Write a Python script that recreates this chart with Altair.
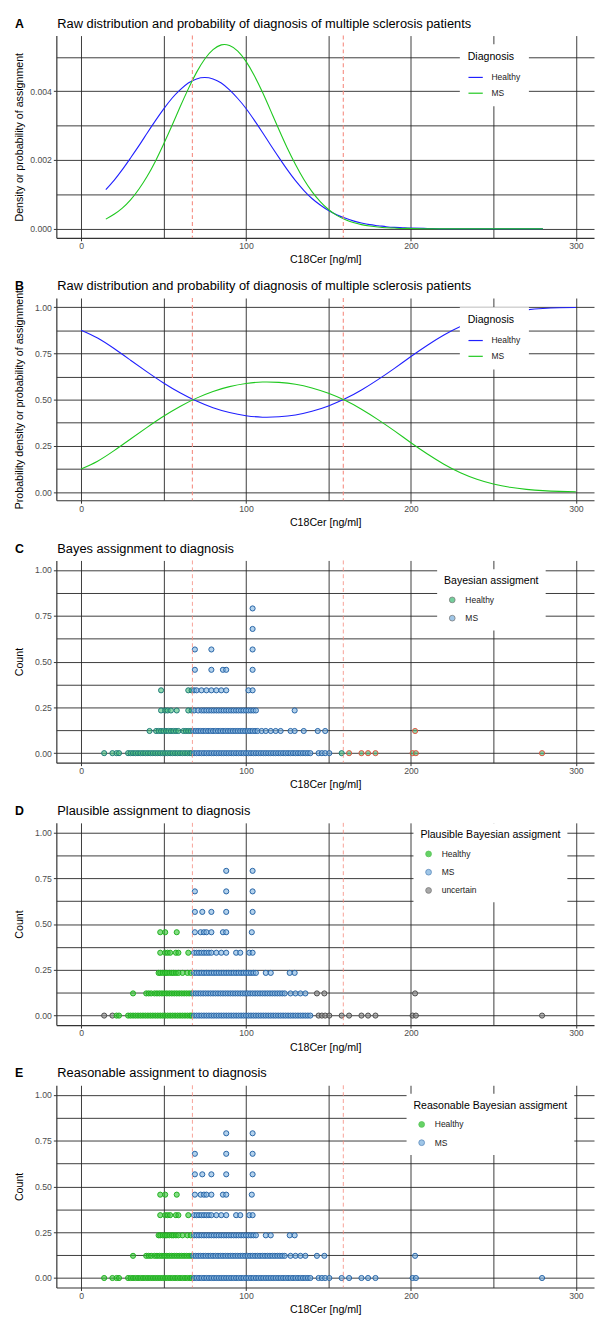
import altair as alt
import pandas as pd

FONT = "Liberation Sans"

# ---------------- data ----------------
X_DOMAIN = [-15, 311]
X_GRID = [0, 50, 100, 150, 200, 250, 300]
THRESHOLDS = [67.5, 159]

# Panel A: densities
A_X = [15, 20, 25, 30, 35, 40, 45, 50, 55, 60, 65, 70, 75, 80, 85, 90, 95, 100, 105, 110,
       115, 120, 125, 130, 135, 140, 145, 150, 155, 160, 165, 170, 175, 180, 185, 190, 195, 200,
       210, 220, 230, 240, 250, 260, 270, 280]
A_HEALTHY = [0.00114, 0.00141, 0.00172, 0.00206, 0.00241, 0.00278, 0.00314, 0.00348, 0.00379, 0.00404,
             0.00424, 0.00436, 0.00440, 0.00436, 0.00424, 0.00404, 0.00379, 0.00350, 0.00316, 0.00280,
             0.00243, 0.00207, 0.00172, 0.00140, 0.00112, 0.00088, 0.00069, 0.00053, 0.00041, 0.00031,
             0.00023, 0.00017, 0.00012, 0.00009, 0.00006, 0.00004, 0.00003, 0.00002,
             0.00001, 0, 0, 0, 0, 0, 0, 0]
A_MS = [0.00028, 0.00042, 0.00060, 0.00084, 0.00115, 0.00152, 0.00196, 0.00246, 0.00299, 0.00354,
        0.00407, 0.00455, 0.00494, 0.00521, 0.00535, 0.00533, 0.00517, 0.00487, 0.00446, 0.00397,
        0.00343, 0.00288, 0.00235, 0.00187, 0.00144, 0.00108, 0.00079, 0.00056, 0.00039, 0.00027,
        0.00018, 0.00012, 0.00008, 0.00005, 0.00003, 0.00002, 0.00001, 0.00001,
        0, 0, 0, 0, 0, 0, 0, 0]

# Panel B: posterior probabilities
B_X = [0, 10, 20, 30, 40, 50, 60, 70, 80, 90, 100, 110, 120, 130, 140, 150, 160, 170, 180, 190,
       200, 210, 220, 230, 240, 250, 260, 270, 280, 290, 300]
B_HEALTHY = [0.875, 0.833, 0.776, 0.713, 0.650, 0.590, 0.537, 0.492, 0.456, 0.430, 0.413, 0.405,
             0.407, 0.417, 0.437, 0.466, 0.504, 0.552, 0.608, 0.669, 0.733, 0.794, 0.849, 0.895,
             0.930, 0.956, 0.974, 0.985, 0.992, 0.996, 0.998]
B_MS = [0.125, 0.167, 0.224, 0.287, 0.350, 0.410, 0.463, 0.508, 0.544, 0.570, 0.587, 0.595,
        0.593, 0.583, 0.563, 0.534, 0.496, 0.448, 0.392, 0.331, 0.267, 0.206, 0.151, 0.105,
        0.070, 0.044, 0.026, 0.015, 0.008, 0.004, 0.002]

# Dot plots: stack heights and dot positions per stack row
ROW_Y = [0.0, 0.121, 0.233, 0.343, 0.455, 0.566, 0.678, 0.79]

ROW0 = [14, 19, 21.5, 23,
        28.5, 30, 31.5, 33, 34.5, 36, 37.5, 39, 40.5, 42, 43.5, 45, 46.5, 48, 49.5, 51, 52.5, 54,
        55.5, 57, 58.5, 60, 61.5, 63, 64.5, 66, 67,
        68.5, 70, 71.5, 73, 74.5, 76, 77.5, 79, 80.5, 82, 83.5, 85, 86.5, 88, 89.5, 91, 92.5, 94,
        95.5, 97, 98.5, 100, 101.5, 103, 104.5, 106, 107.5, 109, 110.5, 112, 113.5, 115, 116.5,
        118, 119.5, 121, 122.5, 124, 125.5, 127, 128.5, 130, 131.5, 133, 134.5, 136, 137.5, 139,
        144, 146, 148, 150.5, 158, 162.5, 170, 174, 178.5, 201, 203, 279.5]

C_ROW1 = [41.5, 45.5, 47, 48.5, 50, 51.5, 53, 54.5, 56, 57.5, 59, 62, 63.5, 65, 66.5, 68, 69.5,
          71, 72.5, 74, 75.5, 77, 78.5, 80, 81.5, 83, 84.5, 86, 87.5, 89, 90.5, 92, 93.5, 95,
          96.5, 98, 99.5, 101, 102.5, 104, 105.5, 107, 109.5, 112, 115, 118, 121, 127, 129.5,
          135, 143.5, 148, 202.5]
C_ROW2 = [48.5, 51, 52.5, 54.5, 58, 65, 67, 68.5, 71, 73, 74.5, 76, 77.5, 79, 80.5, 82, 83.5,
          85, 86.5, 88, 89.5, 91, 92.5, 94, 95.5, 97, 98.5, 100, 101.5, 103, 104.5, 106, 129.5]
C_ROW3 = [48.5, 65, 67, 68.5, 70, 73, 76, 79, 82, 85, 88, 101.5, 104]
C_ROW4 = [69, 79, 86, 88, 104]
C_ROW5 = [69, 79, 104]
C_ROW6 = [104]
C_ROW7 = [104]

D_ROW1 = [31.5, 39.5, 41, 42.5, 44.5, 46, 47.5, 49, 50.5, 52, 53.5, 55, 56.5, 58, 59.5, 61, 62.5,
          64, 65.5, 67, 68, 69.5, 71, 72.5, 74, 75.5, 77, 78.5, 80, 81.5, 83, 84.5, 86, 87.5, 89,
          90.5, 92, 93.5, 95, 96.5, 98, 99.5, 101, 102.5, 104, 105.5, 107, 108.5, 110, 111.5, 113,
          114.5, 116, 117.5, 119, 120.5, 122, 123.5, 127, 130, 133, 136, 143, 147.5, 202.5]
D_ROW2 = [47, 48, 49.5, 51, 52, 53.5, 55, 56, 57.5, 59, 61.5, 64.5, 66.5, 68.5, 70, 71.5, 73,
          74.5, 76, 77.5, 79, 80.5, 82, 83.5, 85, 86.5, 88, 89.5, 91, 92.5, 94, 95.5, 97, 98.5,
          100, 101.5, 103, 104.5, 106, 112, 115, 126.5, 129.5]
D_ROW3 = [48, 51, 52.5, 54, 57.5, 59, 65, 68.5, 70, 71.5, 73, 74.5, 76, 77.5, 79, 82, 85, 88,
          94, 96.5, 102, 104]
D_ROW4 = [48, 51, 58, 69, 72.5, 74.5, 76, 79, 86, 88, 103.5]
D_ROW5 = [69, 73.5, 79, 88, 104]
D_ROW6 = [69, 88, 104]
D_ROW7 = [88, 104]

# class boundaries
C_MS_RANGE = [67.5, 155]
C_RED_ABOVE = 160
D_CERTAIN_RANGE = [20, 140]
HEALTHY_BELOW = 67.5

# ---------------- layout ----------------
W, H = 545, 205
AXIS_EXTENT = 27


def x_enc():
    return alt.X(
        "x:Q",
        scale=alt.Scale(domain=X_DOMAIN, nice=False, zero=False),
        axis=alt.Axis(
            title="C18Cer [ng/ml]", values=X_GRID,
            labelExpr="datum.value % 100 == 0 ? datum.label : ''",
            tickOpacity={"condition": {"test": "datum.value % 100 == 0", "value": 1}, "value": 0},
            labelOverlap=False, labelFlush=False, labelPadding=1, titlePadding=3.5,
        ),
    )


def y_enc(domain, values, fmt, title, test):
    return alt.Y(
        "y:Q",
        scale=alt.Scale(domain=domain, nice=False, zero=False),
        axis=alt.Axis(
            title=title, values=values, format=fmt,
            labelExpr=f"{test} ? datum.label : ''",
            tickOpacity={"condition": {"test": test, "value": 1}, "value": 0},
            labelOverlap=False, labelFlush=False, labelPadding=2,
            minExtent=AXIS_EXTENT, maxExtent=AXIS_EXTENT, titlePadding=5.5,
        ),
    )


def heading(letter, text):
    df = pd.DataFrame({"letter": [letter], "title": [text]})
    base = alt.Chart(df)
    lt = base.mark_text(align="left", baseline="alphabetic", fontSize=12.5, fontWeight="bold",
                        font=FONT, color="black").encode(
        x=alt.value(-41.8), y=alt.value(-8), text="letter:N")
    tt = base.mark_text(align="left", baseline="alphabetic", fontSize=13, font=FONT,
                        color="black").encode(
        x=alt.value(1), y=alt.value(-8), text="title:N")
    return [lt, tt]


def thresholds(width):
    df = pd.DataFrame({"x": THRESHOLDS})
    return alt.Chart(df).mark_rule(color="#f58a7e", strokeDash=[4, 3], strokeWidth=width,
                                   opacity=0.9).encode(x=x_enc())


def line_legend(lx, ly):
    return alt.Legend(
        title="Diagnosis", orient="none", legendX=lx, legendY=ly, fillColor="white", padding=8,
        titleFontSize=10.7, titleFontWeight="normal", titleColor="black", titleFont=FONT,
        labelFontSize=8.6, labelColor="#1a1a1a", labelFont=FONT,
        symbolType="stroke", symbolSize=210, symbolStrokeWidth=1.2,
        rowPadding=3, titlePadding=7, labelOffset=8, zindex=1,
    )


def dot_legend(title, lx, ly):
    return alt.Legend(
        title=title, orient="none", legendX=lx, legendY=ly, fillColor="white", padding=7,
        titleFontSize=10.7, titleFontWeight="normal", titleColor="black", titleFont=FONT,
        labelFontSize=8.6, labelColor="#1a1a1a", labelFont=FONT,
        symbolType="circle", symbolSize=34, symbolStrokeColor="#555555", symbolStrokeWidth=0.8,
        symbolOpacity=0.75, symbolOffset=4,
        rowPadding=8.5, titlePadding=9, labelOffset=9, zindex=1,
    )


Y_A_GRID = [0, 0.001, 0.002, 0.003, 0.004, 0.005]
Y_P_GRID = [0, 0.125, 0.25, 0.375, 0.5, 0.625, 0.75, 0.875, 1.0]
TEST_A = "round(datum.value * 1000) % 2 == 0"
TEST_P = "round(datum.value * 8) % 2 == 0"

# ---------------- panel A ----------------
dfA = pd.DataFrame({
    "x": A_X + A_X,
    "y": A_HEALTHY + A_MS,
    "Diagnosis": ["Healthy"] * len(A_X) + ["MS"] * len(A_X),
})
lineA = alt.Chart(dfA).mark_line(strokeWidth=1.1, interpolate="natural").encode(
    x=x_enc(),
    y=y_enc([-0.000264, 0.00562], Y_A_GRID, ".3f", "Density or probability of assignment", TEST_A),
    color=alt.Color("Diagnosis:N",
                    scale=alt.Scale(domain=["Healthy", "MS"], range=["#1f1fff", "#1fc81f"]),
                    legend=line_legend(409, 8.7)),
)
panelA = alt.layer(lineA, thresholds(1.2),
                   *heading("A", "Raw distribution and probability of diagnosis of multiple sclerosis patients")
                   ).properties(width=W, height=H)

# ---------------- panel B ----------------
dfB = pd.DataFrame({
    "x": B_X + B_X,
    "y": B_HEALTHY + B_MS,
    "Diagnosis": ["Healthy"] * len(B_X) + ["MS"] * len(B_X),
})
lineB = alt.Chart(dfB).mark_line(strokeWidth=1.1, interpolate="natural").encode(
    x=x_enc(),
    y=y_enc([-0.044, 1.049], Y_P_GRID, ".2f", "Probability density or probability of assignment", TEST_P),
    color=alt.Color("Diagnosis:N",
                    scale=alt.Scale(domain=["Healthy", "MS"], range=["#1f1fff", "#1fc81f"]),
                    legend=line_legend(409, 9.4)),
)
panelB = alt.layer(lineB, thresholds(1.2),
                   *heading("B", "Raw distribution and probability of diagnosis of multiple sclerosis patients")
                   ).properties(width=W, height=H)


# ---------------- dot plot helpers ----------------
def stack_frame(rows):
    xs, ys = [], []
    for k, row in enumerate(rows):
        for v in row:
            xs.append(v)
            ys.append(ROW_Y[k])
    return pd.DataFrame({"x": xs, "y": ys})


def dot_panel(df, letter, text, legend_title, domain, fill_range, stroke_domain, stroke_range, lx, ly):
    pts = alt.Chart(df).mark_point(shape="circle", filled=True, size=27, fillOpacity=0.6,
                                   strokeWidth=1.0, strokeOpacity=1).encode(
        x=x_enc(),
        y=y_enc([-0.052, 1.052], Y_P_GRID, ".2f", "Count", TEST_P),
        fill=alt.Fill("cls:N", scale=alt.Scale(domain=domain, range=fill_range),
                      legend=dot_legend(legend_title, lx, ly)),
        stroke=alt.Stroke("edge:N", scale=alt.Scale(domain=stroke_domain, range=stroke_range),
                          legend=None),
    )
    return alt.layer(pts, thresholds(0.9), *heading(letter, text)).properties(width=W, height=H)


# panel C: Bayes assignment
dfC = stack_frame([ROW0, C_ROW1, C_ROW2, C_ROW3, C_ROW4, C_ROW5, C_ROW6, C_ROW7])
dfC["cls"] = ["MS" if C_MS_RANGE[0] <= v <= C_MS_RANGE[1] else "Healthy" for v in dfC["x"]]
dfC["edge"] = ["red" if v > C_RED_ABOVE else ("blue" if c == "MS" else "teal")
               for v, c in zip(dfC["x"], dfC["cls"])]
panelC = dot_panel(dfC, "C", "Bayes assignment to diagnosis", "Bayesian assigment",
                   ["Healthy", "MS"], ["#45c07a", "#7fb3e0"],
                   ["teal", "blue", "red"], ["#1f7a78", "#2865a6", "#e0533f"], 386, 9)

# panel D: plausible assignment
D_ROWS = [ROW0, D_ROW1, D_ROW2, D_ROW3, D_ROW4, D_ROW5, D_ROW6, D_ROW7]
dfD = stack_frame(D_ROWS)
dfD["cls"] = ["uncertain" if (v < D_CERTAIN_RANGE[0] or v > D_CERTAIN_RANGE[1])
              else ("Healthy" if v < HEALTHY_BELOW else "MS") for v in dfD["x"]]
dfD["edge"] = dfD["cls"]
panelD = dot_panel(dfD, "D", "Plausible assignment to diagnosis", "Plausible Bayesian assigment",
                   ["Healthy", "MS", "uncertain"], ["#33c433", "#7fb3e0", "#8c8c8c"],
                   ["Healthy", "MS", "uncertain"], ["#22b022", "#2865a6", "#4d4d4d"], 362, 0.5)

# panel E: reasonable assignment
dfE = stack_frame(D_ROWS)
dfE["cls"] = ["Healthy" if v < HEALTHY_BELOW else "MS" for v in dfE["x"]]
dfE["edge"] = dfE["cls"]
panelE = dot_panel(dfE, "E", "Reasonable assignment to diagnosis", "Reasonable Bayesian assigment",
                   ["Healthy", "MS"], ["#33c433", "#7fb3e0"],
                   ["Healthy", "MS"], ["#22b022", "#2865a6"], 355, 8.7)

chart = alt.vconcat(panelA, panelB, panelC, panelD, panelE, spacing=14).resolve_scale(
    x="independent", y="independent", color="independent", fill="independent", stroke="independent"
).resolve_legend(
    color="independent", fill="independent", stroke="independent"
).properties(
    padding={"left": 5, "top": 0, "right": 0, "bottom": 0}
).configure_axis(
    labelFont=FONT, titleFont=FONT, labelFontSize=8.8, titleFontSize=10.8,
    labelColor="#4d4d4d", titleColor="black", titleFontWeight="normal",
    grid=True, gridColor="#262626", gridWidth=0.9, gridOpacity=1,
    domainColor="#333333", domainWidth=1.2, tickColor="#333333", tickSize=3, tickWidth=1,
).configure_view(stroke="transparent").configure_legend(labelFont=FONT, titleFont=FONT)

chart.save("out.html", embed_options={"renderer": "svg", "actions": False})
